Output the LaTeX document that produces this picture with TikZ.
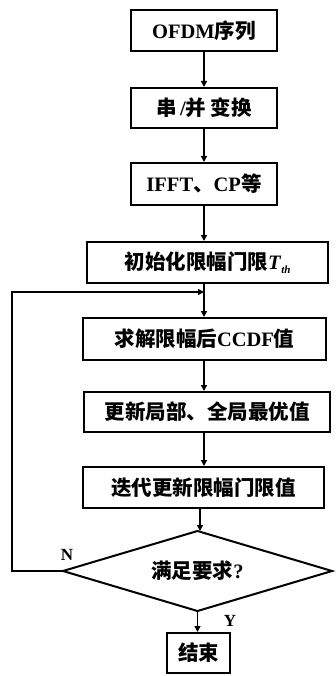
\documentclass[tikz,border=0pt]{standalone}
\usepackage{fontspec}
\setmainfont{Liberation Serif}
\newfontfamily\cjk{Noto Sans CJK SC}
\usetikzlibrary{arrows.meta,shapes.geometric}
\newcommand\zh[1]{{\cjk\bfseries #1}}
\tikzset{
  box/.style={draw, line width=2pt, minimum height=41pt, inner sep=0pt, font=\fontsize{20.5}{22}\selectfont\bfseries},
  arr/.style={line width=1.4pt, -{Triangle[length=6pt,width=6pt]}},
  lbl/.style={font=\fontsize{17}{18}\selectfont\bfseries, inner sep=0pt}
}
\begin{document}
\begin{tikzpicture}[x=1pt,y=1pt]
\useasboundingbox (0,0) rectangle (335,-676);
\node[box, minimum width=146pt] (b1) at (204,-31) {OFDM\zh{序列}};
\node[box, minimum width=146pt, minimum height=40pt] (b2) at (204,-108) {\zh{串}\,/\zh{并 变换}};
\node[box, minimum width=146pt, minimum height=42pt] (b3) at (204,-184) {IFFT\zh{、}CP\zh{等}};
\node[box, minimum width=241pt] (b4) at (207.5,-262.5) {\zh{初始化限幅门限}\textit{T}\raisebox{-0.4ex}{\fontsize{11}{12}\selectfont\textit{th}}};
\node[box, minimum width=243pt, minimum height=42pt] (b5) at (204.5,-339) {\zh{求解限幅后}CCDF\zh{值}};
\node[box, minimum width=246pt, minimum height=40pt] (b6) at (207,-412) {\zh{更新局部、全局最优值}};
\node[box, minimum width=241pt] (b7) at (203.5,-487.5) {\zh{迭代更新限幅门限值}};
\node[draw, diamond, aspect=3.3, line width=2pt, minimum width=269pt, minimum height=80pt, inner sep=0pt, outer sep=0pt, font=\fontsize{20.5}{22}\selectfont\bfseries] (d) at (197.5,-571) {\zh{满足要求}?};
\node[box, minimum width=63pt, minimum height=40pt] (e) at (198.5,-653) {\zh{结束}};
\coordinate (j) at (204,-292);
\coordinate (lc1) at (12,-571);
\coordinate (lc2) at (12,-292);
\draw[arr] (b1.south -| 204,0) -- (b2.north -| 204,0);
\draw[arr] (b2.south -| 204,0) -- (b3.north -| 204,0);
\draw[arr] (b3.south -| 204,0) -- (b4.north -| 204,0);
\draw[arr] (b4.south -| 204,0) -- (b5.north -| 204,0);
\draw[arr] (b5.south -| 204,0) -- (b6.north -| 204,0);
\draw[arr] (b6.south -| 204,0) -- (b7.north -| 204,0);
\draw[arr] (b7.south -| 200,0) -- (d.north -| 200,0);
\draw[arr] (d.south) -- (e.north -| d.south);
\draw[line width=2pt, line join=miter] (d.west) -- (lc1) -- (lc2) -- ([xshift=-6pt]j);
\draw[arr] ([xshift=-8pt]j) -- (j);
\node[lbl] (n) at (67,-555) {N};
\node[lbl] (y) at (230,-621) {Y};
\end{tikzpicture}
\end{document}
